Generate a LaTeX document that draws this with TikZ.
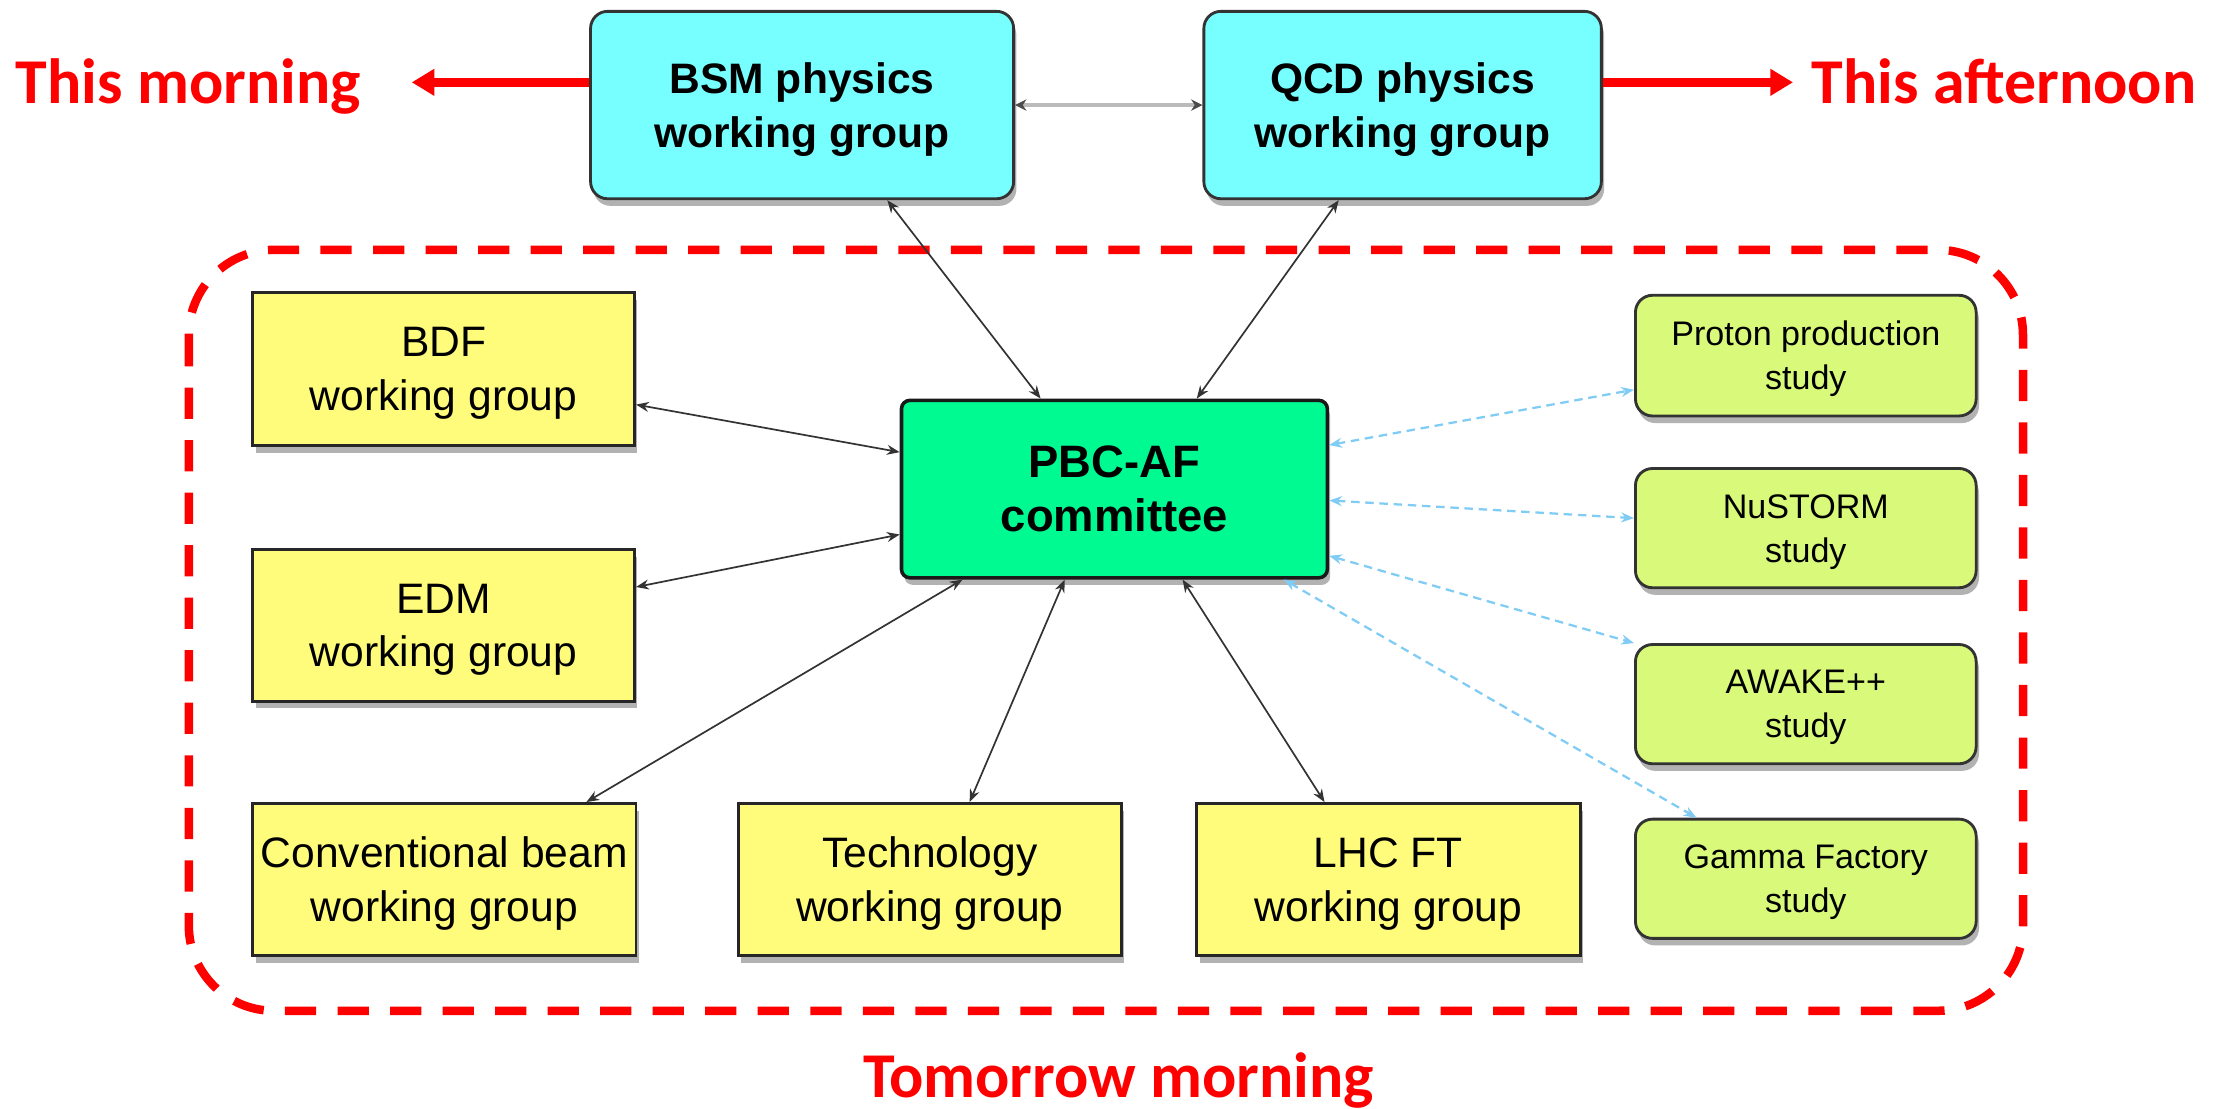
\documentclass[tikz,border=0pt]{standalone}
\usepackage{fontspec}
\setmainfont{Liberation Sans}
\newfontfamily\labelfont{Carlito}
\usetikzlibrary{arrows.meta,shadows}

\definecolor{wgcyan}{HTML}{77FFFF}
\definecolor{wgyellow}{HTML}{FFFB7B}
\definecolor{pbcgreen}{HTML}{00FA92}
\definecolor{studylime}{HTML}{D8F97A}
\definecolor{linkblue}{HTML}{80CCF5}
\definecolor{linkgray}{HTML}{BBBBBB}
\definecolor{slidered}{HTML}{FF0000}

\tikzset{
  boxshadow/.style={drop shadow={shadow xshift=2pt,shadow yshift=-5pt,fill=black,opacity=0.3}},
  physbox/.style={draw=black!80,line width=2pt,fill=wgcyan,rounded corners=12pt,boxshadow,text depth=0pt,
    align=center,font=\fontsize{30}{38}\selectfont\bfseries,minimum height=132pt},
  wgbox/.style={draw=black!85,line width=2pt,fill=wgyellow,boxshadow,text depth=0pt,
    align=center,font=\fontsize{30}{38}\selectfont,minimum width=270pt,minimum height=107pt},
  pbcbox/.style={draw=black!90,line width=2.5pt,fill=pbcgreen,rounded corners=6pt,boxshadow,
    align=center,font=\fontsize{32}{38}\selectfont\bfseries,minimum width=300pt,minimum height=125pt},
  studybox/.style={draw=black!80,line width=2pt,fill=studylime,rounded corners=12pt,boxshadow,text depth=0pt,
    align=center,font=\fontsize{24}{31}\selectfont,minimum width=240pt,minimum height=84pt},
  link/.style={draw=black!80,line width=1.2pt,{Stealth[length=9pt,width=7pt]}-{Stealth[length=9pt,width=7pt]}},
  studylink/.style={draw=linkblue,line width=1.6pt,dash pattern=on 6pt off 4pt,
    {Stealth[length=9pt,width=7pt]}-{Stealth[length=9pt,width=7pt]}},
  peerlink/.style={draw=linkgray,line width=3pt,
    {Stealth[length=8pt,width=8pt,black!70]}-{Stealth[length=8pt,width=8pt,black!70]}},
  sessionarrow/.style={draw=slidered,line width=6pt,-{Triangle[length=16pt,width=18pt]}},
  sessionlabel/.style={text=slidered,font=\labelfont\fontsize{45}{54}\selectfont\bfseries,inner sep=0pt},
}

\begin{document}
\begin{tikzpicture}[x=1pt,y=-1pt]
\useasboundingbox (0,0) rectangle (1568,781);

% session grouping frame
\draw[slidered,line width=6pt,dash pattern=on 22pt off 15pt,rounded corners=60pt]
  (133,176) rectangle (1425,712);

% physics working groups
\node[physbox,minimum width=298pt] (bsm) at (565,74) {BSM physics\\working group};
\node[physbox,minimum width=280pt] (qcd) at (988,74) {QCD physics\\working group};

% central committee
\node[pbcbox] (pbc) at (785,344.5) {PBC-AF\\committee};

% accelerator working groups
\node[wgbox,minimum width=269pt,minimum height=108pt] (bdf) at (312.5,260) {BDF\\working group};
\node[wgbox,minimum width=269pt] (edm) at (312.5,440.5) {EDM\\working group};
\node[wgbox] (conv) at (313,619.5) {Conventional beam\\working group};
\node[wgbox] (tech) at (655,619.5) {Technology\\working group};
\node[wgbox] (lhc) at (978,619.5) {LHC FT\\working group};

% studies
\node[studybox,minimum height=85pt] (proton) at (1272,250.5) {Proton production\\study};
\node[studybox] (nustorm) at (1272,372) {NuSTORM\\study};
\node[studybox] (awake) at (1272,496) {AWAKE++\\study};
\node[studybox] (gamma) at (1272,619) {Gamma Factory\\study};

% links
\draw[peerlink] (bsm.east) -- (qcd.west);
\draw[link] ([xshift=60pt]bsm.south) -- ([xshift=-52pt]pbc.north);
\draw[link] ([xshift=-45pt]qcd.south) -- ([xshift=58pt]pbc.north);
\draw[link] ([yshift=-25pt]bdf.east) -- ([yshift=26pt]pbc.west);
\draw[link] ([yshift=27pt]edm.east) -- ([yshift=-32pt]pbc.west);
\draw[link] ([xshift=100pt]conv.north) -- ([xshift=-107pt]pbc.south);
\draw[link] ([xshift=28pt]tech.north) -- ([xshift=-35pt]pbc.south);
\draw[link] ([xshift=-45pt]lhc.north) -- ([xshift=48pt]pbc.south);

\draw[studylink] ([yshift=31pt]pbc.east) -- ([yshift=-24pt]proton.west);
\draw[studylink] ([yshift=-8pt]pbc.east) -- ([yshift=7pt]nustorm.west);
\draw[studylink] ([yshift=-47pt]pbc.east) -- (awake.north west);
\draw[studylink] ([xshift=-32pt]pbc.south east) -- ([xshift=-77pt]gamma.north);

% session labels
\node[sessionlabel,anchor=base west] (morning) at (11,73) {This morning};
\node[sessionlabel,anchor=base west] (afternoon) at (1276,73) {This afternoon};
\node[sessionlabel,anchor=base] (tomorrow) at (788,773) {Tomorrow morning};
\coordinate (morningtip) at (290,58);
\coordinate (afternoontip) at (1263,58);
\draw[sessionarrow] ([yshift=16pt]bsm.west) -- (morningtip);
\draw[sessionarrow] ([yshift=16pt]qcd.east) -- (afternoontip);
\end{tikzpicture}
\end{document}
